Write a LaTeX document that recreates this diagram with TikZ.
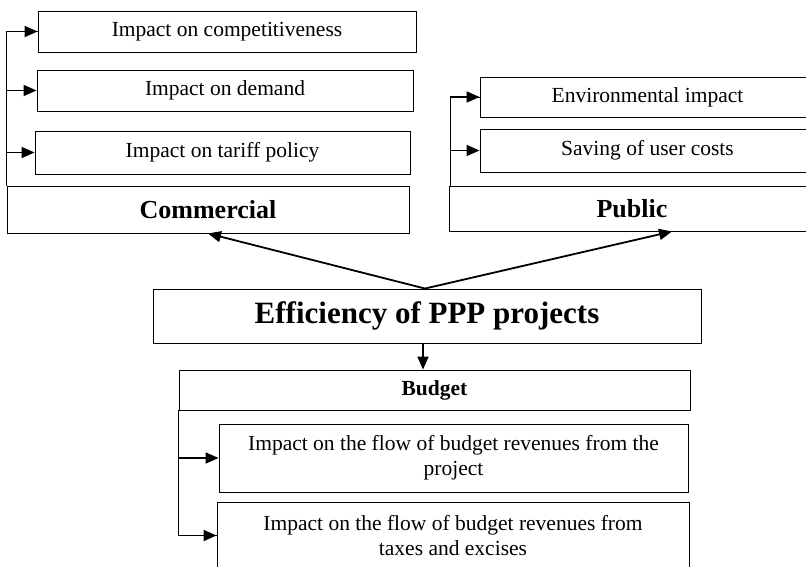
\documentclass[tikz,border=0pt]{standalone}
\usepackage{fontspec}
\setmainfont{Liberation Serif}
\usetikzlibrary{arrows.meta}
\tikzstyle{item}=[draw=black,line width=0.9pt,inner sep=0pt,align=center,font=\fontsize{21.5}{25}\selectfont]
\tikzstyle{group}=[draw=black,line width=0.9pt,inner sep=0pt,align=center,font=\fontsize{26}{30}\selectfont\bfseries]
\tikzstyle{link}=[line width=1.8pt,-{Triangle[length=13pt,width=11pt]}]
\tikzstyle{rail}=[line width=0.9pt]

\begin{document}
\begin{tikzpicture}[x=1pt,y=-1pt]
			\useasboundingbox (0,0) rectangle (806,567);
			% commercial side
			\node (comp) at (227,31.5) [item,minimum width=378pt,minimum height=41pt] {Impact on competitiveness};
			\node (dem) at (225,90.5) [item,minimum width=376pt,minimum height=41pt] {Impact on demand};
			\node (tar) at (222.5,152.5) [item,minimum width=375pt,minimum height=43pt] {Impact on tariff policy};
			\node (comm) at (208,209.5) [group,minimum width=402pt,minimum height=47pt] {Commercial};
			% public side
			\node (env) at (647.5,97) [item,minimum width=335pt,minimum height=40pt] {Environmental impact};
			\node (sav) at (647.5,150.5) [item,minimum width=335pt,minimum height=43pt] {Saving of user costs};
			\node (pub) at (632,208.5) [group,minimum width=366pt,minimum height=45pt] {Public};
			% centre and budget
			\node (eff) at (427,316) [group,minimum width=548pt,minimum height=54pt,font=\fontsize{31}{36}\selectfont\bfseries] {Efficiency of PPP projects};
			\node (bud) at (434.5,390) [group,minimum width=511pt,minimum height=40pt,font=\fontsize{21.5}{25}\selectfont\bfseries] {Budget};
			\node (rev1) at (453.5,458) [item,minimum width=469pt,minimum height=68pt] {Impact on the flow of budget revenues from the\\project};
			\node (rev2) at (453,535.5) [item,minimum width=472pt,minimum height=67pt] {Impact on the flow of budget revenues from\\taxes and excises};
			\draw[rail] (comm.north west) |- (comp.west);
			\draw[link] ([xshift=-0.5pt]comm.north west |- comp.west) -- (comp.west);
			\draw[link] (comm.north west |- dem.west) -- (dem.west);
			\draw[link] (comm.north west |- tar.west) -- (tar.west);
			\draw[rail] ([xshift=2pt]pub.north west) |- (env.west);
			\draw[link] ([xshift=1.5pt]pub.north west |- env.west) -- (env.west);
			\draw[link] ([xshift=2pt]pub.north west |- sav.west) -- (sav.west);
			\draw[link] ([xshift=-2pt]eff.north) -- (comm.south);
			\draw[link] ([xshift=-2pt]eff.north) -- ([xshift=40pt]pub.south);
			\draw[link] ([xshift=-4pt]eff.south) -- ([xshift=-4pt]eff.south |- bud.north);
			\draw[rail] (bud.south west) |- (rev2.west);
			\draw[link] ([xshift=-0.5pt]bud.south west |- rev1.west) -- (rev1.west);
			\draw[link] ([xshift=-0.5pt]bud.south west |- rev2.west) -- (rev2.west);
		\end{tikzpicture}
\end{document}
